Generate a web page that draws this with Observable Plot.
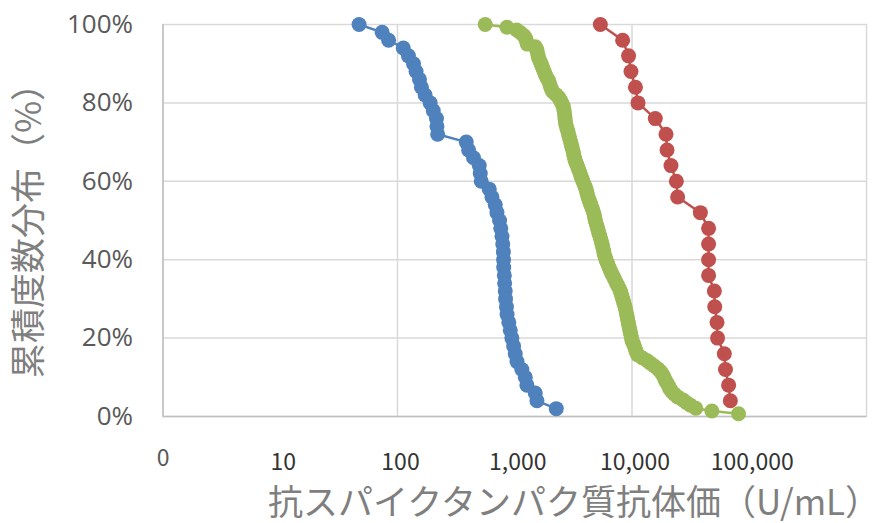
<!DOCTYPE html>
<html>
<head>
<meta charset="utf-8">
<script src="https://cdn.jsdelivr.net/npm/d3@7"></script>
<script src="https://cdn.jsdelivr.net/npm/@observablehq/plot@0.6"></script>
<style>
  html, body { margin: 0; padding: 0; background: #ffffff; }
  #chart { width: 884px; height: 523px; overflow: hidden; }
</style>
</head>
<body>
<div id="chart"></div>
<script>
// ---- data ----
const blueX = [47, 74, 84, 112, 124, 137, 144, 154, 160, 172, 190, 202, 215, 217, 220,
  386, 404, 445, 498, 508, 518, 606, 639, 682, 705, 742, 760, 778, 790, 800,
  803, 805, 815, 820, 830, 835, 850, 860, 890, 916, 945, 978, 1010, 1045, 1150,
  1230, 1270, 1496, 1546, 2260];
const blueY = [100, 98, 96, 94, 92, 90, 88, 86, 84, 82, 80, 78, 76, 74, 72,
  70, 68, 66, 64, 62, 60, 58, 56, 54, 52, 50, 48, 46, 44, 42,
  40, 38, 36, 34, 32, 30, 28, 26, 24, 22, 20, 18, 16, 14, 12,
  10, 8, 6, 4, 2];

const redX = [5370, 8320, 9350, 9800, 10700, 11250, 15800, 19500, 19900, 21500,
  23900, 24500, 38300, 45000, 45000, 45000, 45000, 50400, 50800, 53100,
  53700, 61300, 62700, 66700, 69000];
const redY = [100, 96, 92, 88, 84, 80, 76, 72, 68, 64, 60, 56, 52, 48, 44, 40,
  36, 32, 28, 24, 20, 16, 12, 8, 4];

const greenX = [560, 858, 1040, 1120, 1200, 1240, 1260, 1280, 1500, 1540,
  1560, 1580, 1600, 1640, 1680, 1710, 1750, 1790, 1830, 1880,
  1940, 1980, 2010, 2050, 2100, 2250, 2370, 2450, 2510, 2580,
  2620, 2640, 2660, 2680, 2690, 2710, 2740, 2780, 2830, 2870,
  2910, 2950, 3000, 3040, 3080, 3130, 3170, 3210, 3250, 3300,
  3380, 3450, 3520, 3600, 3660, 3740, 3810, 3900, 3990, 4060,
  4120, 4180, 4250, 4330, 4420, 4510, 4600, 4700, 4770, 4810,
  4860, 4940, 5020, 5100, 5180, 5260, 5360, 5440, 5510, 5590,
  5660, 5740, 5810, 5900, 6000, 6130, 6270, 6410, 6570, 6740,
  6920, 7110, 7300, 7500, 7700, 7930, 8070, 8200, 8330, 8460,
  8600, 8750, 8850, 8950, 9050, 9150, 9250, 9350, 9450, 9560,
  9680, 9800, 9900, 10020, 10250, 10500, 10700, 10900, 11200, 12200,
  13400, 14400, 15500, 16700, 17600, 18200, 18800, 19200, 19800, 20400,
  21000, 21800, 23000, 24500, 27000, 29000, 31500, 35000, 48000, 81000];
const greenY = [100.0, 99.3, 98.6, 97.9, 97.1, 96.4, 95.7, 95.0, 94.3, 93.6,
  92.9, 92.1, 91.4, 90.7, 90.0, 89.3, 88.6, 87.9, 87.1, 86.4,
  85.7, 85.0, 84.3, 83.6, 82.9, 82.1, 81.4, 80.7, 80.0, 79.3,
  78.6, 77.9, 77.1, 76.4, 75.7, 75.0, 74.3, 73.6, 72.9, 72.1,
  71.4, 70.7, 70.0, 69.3, 68.6, 67.9, 67.1, 66.4, 65.7, 65.0,
  64.3, 63.6, 62.9, 62.1, 61.4, 60.7, 60.0, 59.3, 58.6, 57.9,
  57.1, 56.4, 55.7, 55.0, 54.3, 53.6, 52.9, 52.1, 51.4, 50.7,
  50.0, 49.3, 48.6, 47.9, 47.1, 46.4, 45.7, 45.0, 44.3, 43.6,
  42.9, 42.1, 41.4, 40.7, 40.0, 39.3, 38.6, 37.9, 37.1, 36.4,
  35.7, 35.0, 34.3, 33.6, 32.9, 32.1, 31.4, 30.7, 30.0, 29.3,
  28.6, 27.9, 27.1, 26.4, 25.7, 25.0, 24.3, 23.6, 22.9, 22.1,
  21.4, 20.7, 20.0, 19.3, 18.6, 17.9, 17.1, 16.4, 15.7, 15.0,
  14.3, 13.6, 12.9, 12.1, 11.4, 10.7, 10.0, 9.3, 8.6, 7.9,
  7.1, 6.4, 5.7, 5.0, 4.3, 3.6, 2.9, 2.1, 1.4, 0.7];

const seriesNames = ["S1", "S2", "S3"];
const seriesColors = ["#4f81bd", "#9bbb59", "#c0504d"];

const xTickValues = [1, 10, 100, 1000, 10000, 100000];
const xTickLabels = ["0", "10", "100", "1,000", "10,000", "100,000"];
const xGridValues = [100, 10000];
const yTickValues = [0, 20, 40, 60, 80, 100];
const yGridValues = [20, 40, 60, 80];

const xTitle = "抗スパイクタンパク質抗体価（U/mL）";
const yTitle = "累積度数分布（%）";

// ---- build table ----
const rows = [];
[[blueX, blueY], [greenX, greenY], [redX, redY]].forEach(([xs, ys], s) => {
  xs.forEach((v, i) => rows.push({series: seriesNames[s], x: v, y: ys[i]}));
});
const xTicks = xTickValues.map((v, i) => ({v, label: xTickLabels[i]}));
const xTickFirst = xTicks.slice(0, 1);
const xTickRest = xTicks.slice(1);

const cjk = "'Noto Sans CJK JP', 'Noto Sans', sans-serif";

const chart = Plot.plot({
  width: 884,
  height: 523,
  marginLeft: 162.5,
  marginRight: 18,
  marginTop: 24,
  marginBottom: 107,
  style: {background: "#ffffff", fontFamily: cjk},
  x: {type: "log", domain: [1, 1000000], axis: null},
  y: {domain: [0, 100], axis: null},
  color: {type: "ordinal", domain: seriesNames, range: seriesColors},
  marks: [
    Plot.ruleY(yGridValues, {stroke: "#d9d9d9", strokeWidth: 1.5}),
    Plot.ruleX(xGridValues, {stroke: "#d9d9d9", strokeWidth: 1.5}),
    Plot.frame({stroke: "#d9d9d9", strokeWidth: 1.5}),
    Plot.ruleX([1], {stroke: "#bfbfbf", strokeWidth: 1.5}),
    Plot.ruleY([0], {stroke: "#bfbfbf", strokeWidth: 1.5}),
    Plot.line(rows, {x: "x", y: "y", z: "series", stroke: "series", strokeWidth: 2.5}),
    Plot.dot(rows, {x: "x", y: "y", fill: "series", r: 7.5, stroke: null}),
    Plot.text(yTickValues, {
      y: d => d, text: d => d + "%", frameAnchor: "left", textAnchor: "end",
      dx: -30, fontSize: 26, fill: "#595959", fontFamily: "'Open Sans', sans-serif"
    }),
    Plot.text(xTickFirst, {
      x: "v", text: "label", frameAnchor: "bottom", dy: 49,
      fontSize: 23, fill: "#595959", fontFamily: cjk
    }),
    Plot.text(xTickRest, {
      x: "v", text: "label", frameAnchor: "bottom", dy: 53, dx: 3,
      fontSize: 23, fill: "#333333", fontFamily: cjk
    })
  ]
});

const svg = d3.select(chart);
svg.append("text")
  .attr("x", 268).attr("y", 505)
  .attr("text-anchor", "start")
  .attr("dominant-baseline", "middle")
  .attr("font-size", 35)
  .attr("font-family", cjk)
  .attr("fill", "#7f7f7f")
  .text(xTitle);
svg.append("text")
  .attr("transform", "translate(31,222) rotate(-90)")
  .attr("text-anchor", "middle")
  .attr("dominant-baseline", "middle")
  .attr("font-size", 35)
  .attr("font-family", cjk)
  .attr("fill", "#7f7f7f")
  .text(yTitle);

document.getElementById("chart").appendChild(chart);
</script>
</body>
</html>
